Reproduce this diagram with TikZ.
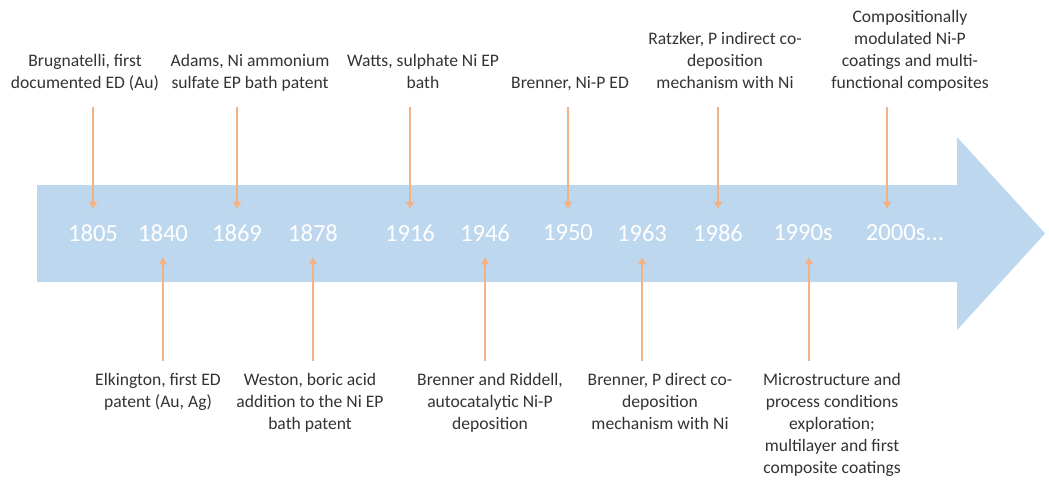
\documentclass[tikz,border=0pt]{standalone}
\usepackage{fontspec}
\setmainfont{Carlito}
\usetikzlibrary{arrows.meta}
\definecolor{band}{RGB}{189,215,238}
\definecolor{stick}{RGB}{244,177,131}
\tikzset{
  year/.style={text=white, font=\fontsize{17.5}{21}\selectfont, minimum height=1.2cm, inner sep=0pt},
  note/.style={align=center, text=black!80, inner sep=0pt, font=\fontsize{12.5}{15.6}\selectfont},
  upper/.style={note, anchor=south, text depth=0.22em},
  lower/.style={note, anchor=north},
  evt/.style={stick, line width=1.6pt, -{Triangle[width=5.5pt,length=5pt]}}
}
\begin{document}
\begin{tikzpicture}[x=0.025cm, y=-0.025cm]
  \useasboundingbox (0,0) rectangle (1049,482);
  % the time band
  \fill[band] (37,185) -- (957,185) -- (957,137) -- (1045,233.5) -- (957,330)
     -- (957,282) -- (37,282) -- cycle;
  % years
  \node[year] (y1805) at (93,233) {1805};
  \node[year] (y1840) at (163,233) {1840};
  \node[year] (y1869) at (237,233) {1869};
  \node[year] (y1878) at (313,233) {1878};
  \node[year] (y1916) at (410,233) {1916};
  \node[year] (y1946) at (485,233) {1946};
  \node[year] (y1950) at (568,233) {1950};
  \node[year] (y1963) at (642,233) {1963};
  \node[year] (y1986) at (718,233) {1986};
  \node[year] (y1990) at (803,233) {1990s};
  \node[year] (y2000) at (905,233) {2000s...};
  % events above
  \node[upper] (brug) at (85,92) {Brugnatelli, first\\documented ED (Au)};
  \node[upper] (adams) at (250,92) {Adams, Ni ammonium\\sulfate EP bath patent};
  \node[upper] (watts) at (423,92) {Watts, sulphate Ni EP\\bath};
  \node[upper] (bren1) at (570,92) {Brenner, Ni-P ED};
  \node[upper] (ratz) at (725,92) {Ratzker, P indirect co-\\deposition\\mechanism with Ni};
  \node[upper] (comp) at (910,92) {Compositionally\\modulated Ni-P\\coatings and multi-\\functional composites};
  % events below
  \node[lower] (elk) at (158,373) {Elkington, first ED\\patent (Au, Ag)};
  \node[lower] (west) at (310,373) {Weston, boric acid\\addition to the Ni EP\\bath patent};
  \node[lower] (ridd) at (490,373) {Brenner and Riddell,\\autocatalytic Ni-P\\deposition};
  \node[lower] (bren2) at (660,373) {Brenner, P direct co-\\deposition\\mechanism with Ni};
  \node[lower] (micro) at (832,373) {Microstructure and\\process conditions\\exploration;\\multilayer and first\\composite coatings};
  % connectors
  \draw[evt, shorten <=0.375cm] (y1805 |- brug.south) -- (y1805);
  \draw[evt, shorten <=0.375cm] (y1869 |- adams.south) -- (y1869);
  \draw[evt, shorten <=0.375cm] (y1916 |- watts.south) -- (y1916);
  \draw[evt, shorten <=0.375cm] (y1950 |- bren1.south) -- (y1950);
  \draw[evt, shorten <=0.375cm] (y1986 |- ratz.south) -- (y1986);
  \draw[evt, shorten <=0.375cm] ([xshift=-0.45cm]y2000 |- comp.south) -- ([xshift=-0.45cm]y2000.north);
  \draw[evt, shorten <=0.3cm] (y1840 |- elk.north) -- (y1840);
  \draw[evt, shorten <=0.3cm] (y1878 |- west.north) -- (y1878);
  \draw[evt, shorten <=0.3cm] (y1946 |- ridd.north) -- (y1946);
  \draw[evt, shorten <=0.3cm] (y1963 |- bren2.north) -- (y1963);
  \draw[evt, shorten <=0.3cm] ([xshift=0.15cm]y1990 |- micro.north) -- ([xshift=0.15cm]y1990.south);
\end{tikzpicture}
\end{document}
